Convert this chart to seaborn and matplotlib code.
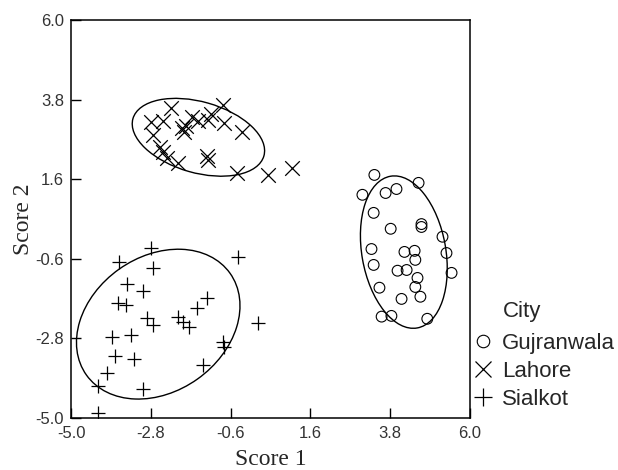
import numpy as np
import pandas as pd
import matplotlib
matplotlib.use("Agg")
import matplotlib.pyplot as plt
import seaborn as sns
from matplotlib.patches import Ellipse
from matplotlib.lines import Line2D

# -----------------------------
# Data (Score 1, Score 2 per city)
# -----------------------------
guj_x = [3.37, 4.59, 3.04, 3.68, 3.98, 3.35, 3.82, 4.67, 4.67, 5.25, 3.29, 4.20, 4.48, 5.36,
         4.50, 3.35, 4.01, 4.26, 5.50, 4.56, 4.50, 3.51, 4.12, 4.64, 3.57, 3.84, 4.83]
guj_y = [1.72, 1.50, 1.17, 1.22, 1.33, 0.67, 0.23, 0.36, 0.28, 0.01, -0.33, -0.41, -0.38, -0.44,
         -0.63, -0.77, -0.93, -0.91, -0.99, -1.13, -1.38, -1.40, -1.71, -1.65, -2.20, -2.18, -2.26]

lah_x = [-2.25, -2.80, -2.47, -2.74, -1.94, -1.89, -1.83, -1.67, -1.50, -1.23, -1.14, -0.81,
         -0.79, -0.29, -2.55, -2.47, -2.36, -2.05, -1.25, -1.23, -0.43, 0.43, 1.09]
lah_y = [3.57, 3.18, 3.21, 2.82, 3.02, 2.91, 3.07, 3.32, 3.21, 3.24, 3.40, 3.65,
         3.15, 2.91, 2.49, 2.35, 2.19, 2.05, 2.24, 2.13, 1.77, 1.72, 1.91]

sia_x = [-2.80, -3.68, -2.74, -0.40, -3.46, -3.02, -3.71, -3.48, -1.25, -1.53, -2.91, -2.74,
         -2.05, -1.91, -1.75, 0.15, -3.87, -3.35, -3.79, -3.26, -0.81, -0.79, -4.01, -1.36,
         -4.26, -3.02, -4.26]
sia_y = [-0.30, -0.69, -0.85, -0.55, -1.29, -1.49, -1.82, -1.87, -1.68, -1.96, -2.23, -2.43,
         -2.20, -2.34, -2.48, -2.37, -2.76, -2.70, -3.28, -3.36, -2.90, -3.03, -3.75, -3.53,
         -4.11, -4.19, -4.86]

cities = ["Gujranwala", "Lahore", "Sialkot"]
ticks = [-5.0, -2.8, -0.6, 1.6, 3.8, 6.0]

df = pd.DataFrame({
    "Score 1": guj_x + lah_x + sia_x,
    "Score 2": guj_y + lah_y + sia_y,
    "City": ["Gujranwala"] * len(guj_x) + ["Lahore"] * len(lah_x) + ["Sialkot"] * len(sia_x),
})

markers = {"Gujranwala": "o", "Lahore": "x", "Sialkot": "+"}


def conf_ellipse(x, y, ax, n_std=1.8):
    cov = np.cov(x, y)
    vals, vecs = np.linalg.eigh(cov)
    order = vals.argsort()[::-1]
    vals, vecs = vals[order], vecs[:, order]
    angle = np.degrees(np.arctan2(vecs[1, 0], vecs[0, 0]))
    w, h = 2 * n_std * np.sqrt(vals)
    ax.add_patch(Ellipse((np.mean(x), np.mean(y)), w, h, angle=angle,
                         fill=False, edgecolor="black", linewidth=1.0))


# -----------------------------
# Plot
# -----------------------------
sns.set_style("white")
fig = plt.figure(figsize=(6.18, 4.70), dpi=100)
ax = fig.add_axes([0.115, 0.111, 0.645, 0.846])

for city in cities:
    sub = df[df["City"] == city]
    if markers[city] == "o":
        sns.scatterplot(data=sub, x="Score 1", y="Score 2", marker="o", s=60,
                        facecolor="none", edgecolor="black", linewidth=0.8, ax=ax, legend=False)
    else:
        sns.scatterplot(data=sub, x="Score 1", y="Score 2", marker=markers[city], s=110,
                        color="black", linewidth=0.9, ax=ax, legend=False)
    conf_ellipse(sub["Score 1"].values, sub["Score 2"].values, ax)

ax.set_xlim(-5.0, 6.0)
ax.set_ylim(-5.0, 6.0)
ax.set_xticks(ticks)
ax.set_yticks(ticks)
ax.set_xticklabels([f"{t:.1f}" for t in ticks], fontfamily="Liberation Sans", fontsize=12, color="#333333")
ax.set_yticklabels([f"{t:.1f}" for t in ticks], fontfamily="Liberation Sans", fontsize=12, color="#333333")
ax.tick_params(direction="in", length=7, width=1, color="black", top=False, right=False,
               bottom=True, left=True)
ax.tick_params(axis="x", pad=6)
ax.tick_params(axis="y", pad=5)
for sp in ax.spines.values():
    sp.set_linewidth(1.1)
    sp.set_color("black")

ax.set_xlabel("Score 1", fontfamily="Liberation Serif", fontsize=17, labelpad=6)
ax.set_ylabel("Score 2", fontfamily="Liberation Serif", fontsize=17)
ax.yaxis.set_label_coords(-0.093, 0.5)

handles = [
    Line2D([], [], linestyle="none", marker="o", markerfacecolor="none", markeredgecolor="black",
           markersize=9, markeredgewidth=0.8),
    Line2D([], [], linestyle="none", marker="x", color="black", markersize=11, markeredgewidth=0.9),
    Line2D([], [], linestyle="none", marker="+", color="black", markersize=13, markeredgewidth=0.9),
]
fig.text(0.814, 0.338, "City", fontfamily="Liberation Sans", fontsize=16, va="center")
fig.legend(handles, cities, loc="upper left", bbox_to_anchor=(0.767, 0.291), frameon=False,
           prop={"family": "Liberation Sans", "size": 16}, handlelength=0.8, handletextpad=0.46,
           labelspacing=0.3, borderpad=0, borderaxespad=0)

fig.savefig("out.png", dpi=100)
